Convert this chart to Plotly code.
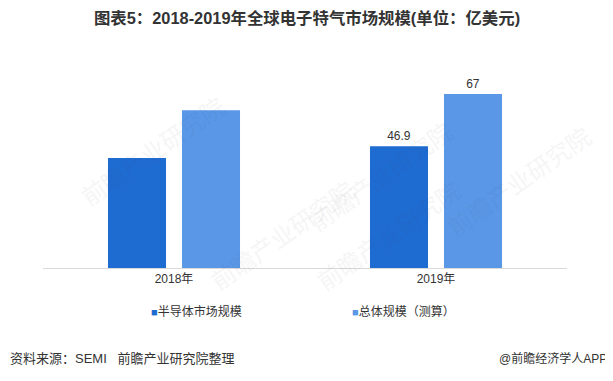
import plotly.graph_objects as go

categories = ["2018年", "2019年"]
semi_values = [42.4, 46.9]
total_values = [60.8, 67]
semi_labels = ["", "46.9"]
total_labels = ["", "67"]
series_names = ["半导体市场规模", "总体规模（测算）"]
colors = ["#1E6BD2", "#5A97E7"]

FONT = "Liberation Sans, Noto Sans CJK SC, sans-serif"

# page offset (default body margin of the html page)
OFF = 8
# plot area in page pixels
PL, PR, PT, PB = 43, 567, 50, 268
W, H = 613 - OFF, 381 - OFF


def px(x):
    return (x - PL) / (PR - PL)


def py(y):
    return (PB - y) / (PB - PT)


fig = go.Figure()
fig.add_trace(go.Bar(x=categories, y=semi_values, name=series_names[0],
                     marker=dict(color=colors[0], line=dict(width=0)),
                     text=semi_labels, textposition="outside", cliponaxis=False,
                     textfont=dict(size=12, color="#333333", family=FONT)))
fig.add_trace(go.Bar(x=categories, y=total_values, name=series_names[1],
                     marker=dict(color=colors[1], line=dict(width=0)),
                     text=total_labels, textposition="outside", cliponaxis=False,
                     textfont=dict(size=12, color="#333333", family=FONT)))

# faint watermarks
for (wx, wy) in [(70, 150), (380, 110), (200, 300), (470, 300), (600, 180)]:
    fig.add_annotation(x=px(wx), y=py(wy), xref="paper", yref="paper", text="前瞻产业研究院",
                       showarrow=False, textangle=-35, opacity=0.05,
                       font=dict(size=24, color="#555555", family="Noto Sans CJK SC"))

fig.update_layout(
    width=W, height=H,
    margin=dict(l=PL - OFF, r=W - (PR - OFF), t=PT - OFF, b=H - (PB - OFF)),
    paper_bgcolor="white", plot_bgcolor="white",
    showlegend=False,
    barmode="group", bargap=0.435, bargroupgap=0.216,
    title=dict(text="<b>图表5：2018-2019年全球电子特气市场规模(单位：亿美元)</b>",
               x=(307 - OFF) / W, xanchor="center", y=1 - (18 - OFF) / H, yanchor="middle",
               font=dict(size=16.4, color="#333333", family=FONT)),
    font=dict(family=FONT, color="#333333"),
)
fig.update_xaxes(showline=True, linecolor="#d9d9d9", linewidth=1, ticks="",
                 tickfont=dict(size=12, color="#333333", family=FONT), showgrid=False)
fig.update_yaxes(visible=False, range=[0, 84], showgrid=False)

# legend drawn as text annotations
legend_pos = [149, 350]
for lx, name, c in zip(legend_pos, series_names, colors):
    fig.add_annotation(x=px(lx), y=py(311), xref="paper", yref="paper", xanchor="left",
                       yanchor="middle", showarrow=False,
                       text=f'<span style="color:{c};font-size:11px">■</span>{name}',
                       font=dict(size=12, color="#333333", family=FONT))

fig.add_annotation(x=px(8), y=py(358), xref="paper", yref="paper", xanchor="left",
                   yanchor="middle", showarrow=False,
                   text="资料来源：SEMI   前瞻产业研究院整理",
                   font=dict(size=13, color="#333333", family=FONT))
fig.add_annotation(x=px(609), y=py(358), xref="paper", yref="paper", xanchor="right",
                   yanchor="middle", showarrow=False,
                   text="@前瞻经济学人APP",
                   font=dict(size=12, color="#333333", family=FONT))

fig.write_html("out.html")
